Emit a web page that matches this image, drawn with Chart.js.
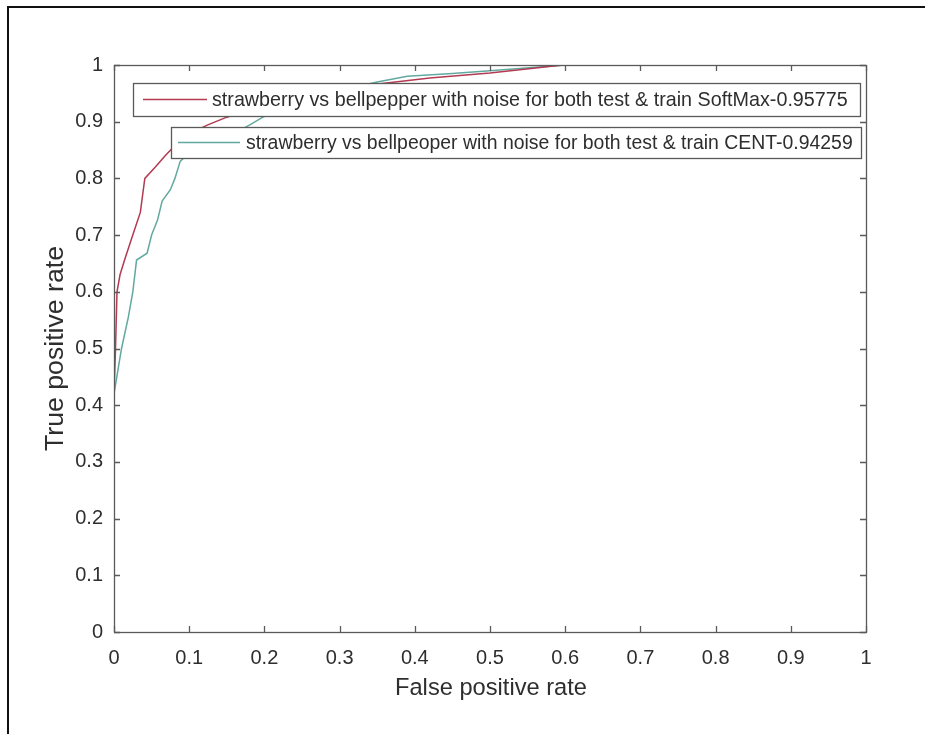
<!DOCTYPE html>
<html>
<head>
<meta charset="utf-8">
<script src="https://cdn.jsdelivr.net/npm/chart.js@4/dist/chart.umd.min.js"></script>
<style>
  html, body { margin: 0; padding: 0; background: #fff; }
  #wrap { width: 925px; height: 734px; position: relative; }
</style>
</head>
<body>
<div id="wrap"><canvas id="c" width="925" height="734"></canvas></div>
<script>
// ---- data ----
const softmaxFpr = [0, 0, 0.002, 0.004, 0.008, 0.015, 0.025, 0.035, 0.041, 0.055, 0.068, 0.09, 0.11, 0.124, 0.15, 0.2, 0.25, 0.3, 0.354, 0.42, 0.5, 0.597, 0.7, 0.8, 0.9, 1];
const softmaxTpr = [0, 0.42, 0.5, 0.6, 0.63, 0.66, 0.70, 0.74, 0.80, 0.82, 0.84, 0.87, 0.885, 0.894, 0.908, 0.93, 0.945, 0.955, 0.967, 0.977, 0.986, 1.0, 1, 1, 1, 1];
const centFpr = [0, 0, 0.005, 0.01, 0.019, 0.025, 0.03, 0.044, 0.05, 0.058, 0.064, 0.075, 0.081, 0.088, 0.1, 0.13, 0.16, 0.18, 0.198, 0.25, 0.3, 0.35, 0.39, 0.45, 0.5, 0.6, 0.7, 0.8, 0.9, 1];
const centTpr = [0, 0.42, 0.46, 0.50, 0.555, 0.60, 0.656, 0.668, 0.70, 0.727, 0.76, 0.78, 0.80, 0.83, 0.845, 0.865, 0.88, 0.894, 0.908, 0.935, 0.955, 0.97, 0.98, 0.985, 0.99, 1, 1, 1, 1, 1];
const seriesNames = [
  'strawberry vs bellpepper with noise for both test & train SoftMax-0.95775',
  'strawberry vs bellpeoper with noise for both test & train CENT-0.94259'
];
const xTickLabels = ['0','0.1','0.2','0.3','0.4','0.5','0.6','0.7','0.8','0.9','1'];
const yTickLabels = ['0','0.1','0.2','0.3','0.4','0.5','0.6','0.7','0.8','0.9','1'];
const xTitle = 'False positive rate';
const yTitle = 'True positive rate';

const RED = '#b23a52';
const TEAL = '#62a99f';
const AXIS = '#5a5a5a';
const TEXT = '#2e2e2e';
const FONT = '"Liberation Sans", Arial, sans-serif';

function toPoints(xs, ys) { return xs.map((x, i) => ({ x: x, y: ys[i] })); }

function fitText(ctx, text, base, targetW) {
  ctx.font = base + 'px ' + FONT;
  const w = ctx.measureText(text).width;
  return base * targetW / w;
}

const boxPlugin = {
  id: 'boxPlugin',
  beforeDraw(chart) {
    const ctx = chart.ctx;
    ctx.save();
    ctx.fillStyle = '#fff';
    ctx.fillRect(0, 0, chart.width, chart.height);
    // outer image frame (top + left)
    ctx.strokeStyle = '#111';
    ctx.lineWidth = 2;
    ctx.beginPath();
    ctx.moveTo(8, chart.height);
    ctx.lineTo(8, 7);
    ctx.lineTo(chart.width, 7);
    ctx.stroke();
    ctx.restore();
  },
  afterDatasetsDraw(chart) {
    const ctx = chart.ctx;
    const a = chart.chartArea;
    const xs = chart.scales.x, ys = chart.scales.y;
    ctx.save();
    ctx.strokeStyle = AXIS;
    ctx.lineWidth = 1.3;
    ctx.strokeRect(Math.round(a.left) + 0.5, Math.round(a.top) + 0.5, Math.round(a.right - a.left), Math.round(a.bottom - a.top));
    const tl = 6;
    ctx.beginPath();
    xs.ticks.forEach(t => {
      const px = Math.round(xs.getPixelForValue(t.value)) + 0.5;
      ctx.moveTo(px, a.bottom); ctx.lineTo(px, a.bottom - tl);
      ctx.moveTo(px, a.top); ctx.lineTo(px, a.top + tl);
    });
    ys.ticks.forEach(t => {
      const py = Math.round(ys.getPixelForValue(t.value)) + 0.5;
      ctx.moveTo(a.left, py); ctx.lineTo(a.left + tl, py);
      ctx.moveTo(a.right, py); ctx.lineTo(a.right - tl, py);
    });
    ctx.stroke();

    // axis titles
    ctx.fillStyle = TEXT;
    ctx.textAlign = 'center';
    ctx.textBaseline = 'middle';
    let s = fitText(ctx, xTitle, 22, 192);
    ctx.font = s.toFixed(2) + 'px ' + FONT;
    ctx.fillText(xTitle, (a.left + a.right) / 2 + 1, 688);
    s = fitText(ctx, yTitle, 22, 205);
    ctx.save();
    ctx.translate(56, (a.top + a.bottom) / 2);
    ctx.rotate(-Math.PI / 2);
    ctx.scale(1, 0.95);
    ctx.font = s.toFixed(2) + 'px ' + FONT;
    ctx.fillText(yTitle, 0, 0);
    ctx.restore();

    // two separate legend boxes (as in the reference)
    const boxes = [
      { x0: 133, y0: 83, x1: 860, y1: 116, l0: 143, l1: 207, tx: 212, tw: 636, color: RED, text: seriesNames[0] },
      { x0: 171, y0: 127, x1: 861, y1: 158, l0: 178, l1: 240, tx: 246, tw: 607, color: TEAL, text: seriesNames[1] }
    ];
    boxes.forEach(b => {
      ctx.fillStyle = '#fff';
      ctx.fillRect(b.x0, b.y0, b.x1 - b.x0, b.y1 - b.y0);
      ctx.strokeStyle = AXIS;
      ctx.lineWidth = 1.3;
      ctx.strokeRect(b.x0 + 0.5, b.y0 + 0.5, b.x1 - b.x0, b.y1 - b.y0);
      const cy = (b.y0 + b.y1) / 2;
      ctx.strokeStyle = b.color;
      ctx.lineWidth = 1.5;
      ctx.beginPath();
      ctx.moveTo(b.l0, cy); ctx.lineTo(b.l1, cy);
      ctx.stroke();
      const size = fitText(ctx, b.text, 16, b.tw);
      ctx.font = size.toFixed(2) + 'px ' + FONT;
      ctx.fillStyle = TEXT;
      ctx.textBaseline = 'middle';
      ctx.textAlign = 'left';
      ctx.fillText(b.text, b.tx, cy + 1);
    });
    ctx.restore();
  }
};

new Chart(document.getElementById('c'), {
  type: 'scatter',
  data: {
    datasets: [
      { label: seriesNames[0], data: toPoints(softmaxFpr, softmaxTpr), showLine: true, borderColor: RED, backgroundColor: RED, borderWidth: 1.5, pointRadius: 0, tension: 0 },
      { label: seriesNames[1], data: toPoints(centFpr, centTpr), showLine: true, borderColor: TEAL, backgroundColor: TEAL, borderWidth: 1.5, pointRadius: 0, tension: 0 }
    ]
  },
  options: {
    responsive: false,
    animation: false,
    devicePixelRatio: 1,
    layout: { padding: { top: 65, right: 59, left: 0, bottom: 0 } },
    plugins: { legend: { display: false }, tooltip: { enabled: false } },
    scales: {
      x: {
        type: 'linear', min: 0, max: 1,
        grid: { display: false, drawTicks: false },
        border: { display: false },
        ticks: { stepSize: 0.1, padding: 14, color: TEXT, font: { family: FONT, size: 20 }, maxRotation: 0,
                 callback: (v, i) => xTickLabels[i] },
        title: { display: false },
        afterFit: s => { s.height = 102; }
      },
      y: {
        type: 'linear', min: 0, max: 1,
        grid: { display: false, drawTicks: false },
        border: { display: false },
        ticks: { stepSize: 0.1, padding: 11, color: TEXT, font: { family: FONT, size: 20 },
                 callback: (v, i) => yTickLabels[i] },
        title: { display: false },
        afterFit: s => { s.width = 114; }
      }
    }
  },
  plugins: [boxPlugin]
});
</script>
</body>
</html>
